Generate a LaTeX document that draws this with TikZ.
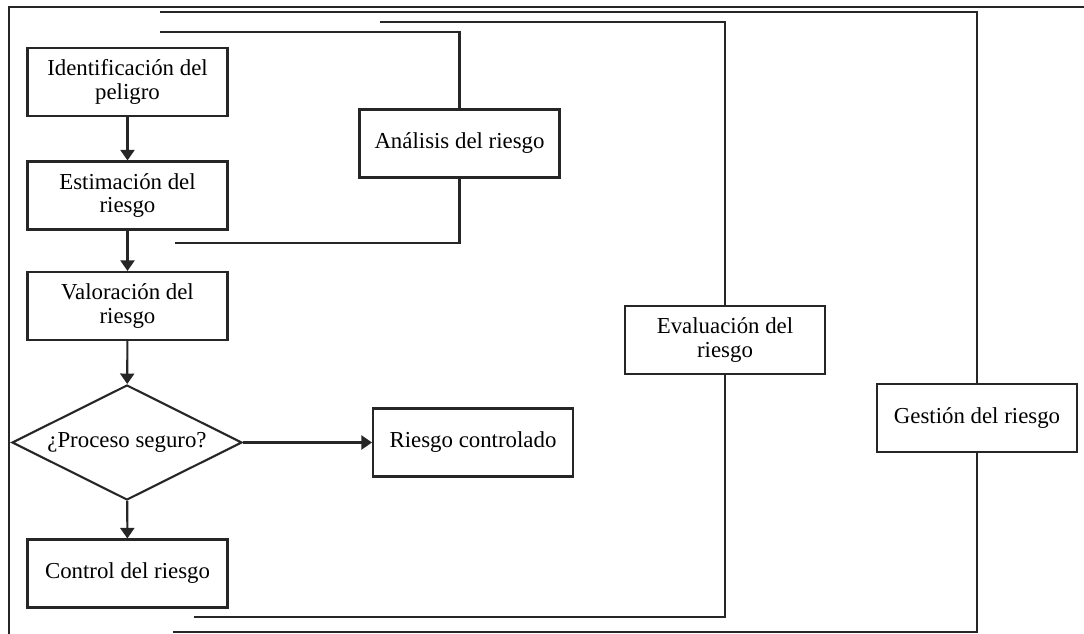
\documentclass[tikz,border=0pt]{standalone}
\usepackage{fontspec}
\setmainfont{Liberation Serif}
\usetikzlibrary{arrows.meta,shapes.geometric}

\begin{document}
\begin{tikzpicture}[x=0.02cm, y=-0.02cm, line width=1.2pt, draw=black!85,
	caja/.style={draw, rectangle, minimum width=4cm, minimum height=1.36cm,
		align=center, inner sep=2pt, font=\fontsize{13}{13.5}\selectfont},
	rombo/.style={draw, diamond, aspect=2, inner sep=0pt, minimum width=4.6cm,
		minimum height=2.3cm, font=\fontsize{13}{13.5}\selectfont},
	flecha/.style={-{Triangle[width=8pt,length=6pt]}}]
	\useasboundingbox (0,0) rectangle (1084,634);
	\draw (1084,7) -- (9,7) -- (9,634);
	% flujo principal
	\node[caja] (ident) at (127.5,82) {Identificación del\\peligro};
	\node[caja] (estim) at (127.5,195.5) {Estimación del\\riesgo};
	\node[caja] (valor) at (127.5,306) {Valoración del\\riesgo};
	\node[rombo] (proceso) at (127,442.5) {¿Proceso seguro?};
	\node[caja] (control) at (127.5,573.5) {Control del riesgo};
	\node[caja] (ctrlado) at (473,442.5) {Riesgo controlado};
	\foreach \a/\b in {ident/estim, estim/valor, valor/proceso, proceso/control}
	{
		\draw[flecha] (\a) -- (\b);
	}
	\draw[flecha] (proceso) -- (ctrlado);
	% etapas
	\node[caja] (analisis) at (459.5,143.5) {Análisis del riesgo};
	\node[caja] (evaluacion) at (725,340) {Evaluación del\\riesgo};
	\node[caja] (gestion) at (977,418) {Gestión del riesgo};
	\coordinate (a1) at (160,32); \coordinate (a2) at (175,243);
	\coordinate (e1) at (380,22); \coordinate (e2) at (194,617);
	\coordinate (g1) at (160,12); \coordinate (g2) at (173,632);
	\draw (a1) -| (analisis.north);
	\draw (analisis.south) |- (a2);
	\draw (e1) -| (evaluacion.north);
	\draw (evaluacion.south) |- (e2);
	\draw (g1) -| (gestion.north);
	\draw (gestion.south) |- (g2);
\end{tikzpicture}
\end{document}
